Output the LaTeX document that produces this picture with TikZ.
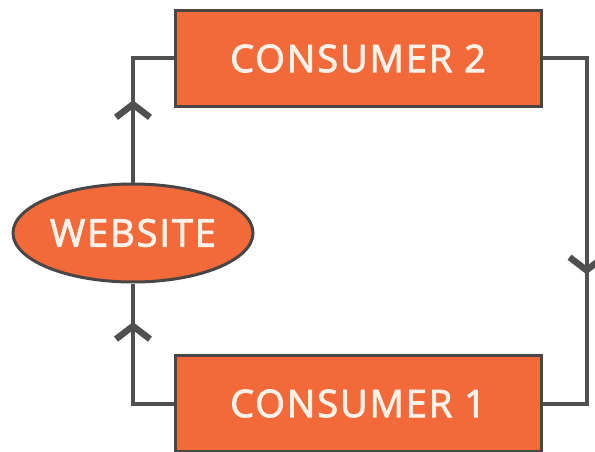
\documentclass[tikz,border=0pt]{standalone}
\usepackage{fontspec}
\setmainfont{Open Sans}
\newfontfamily\boxfont{Open Sans}[FakeBold=2.4,LetterSpace=5]
\usetikzlibrary{positioning,arrows.meta,shapes.geometric,decorations.markings}

\definecolor{boxorange}{HTML}{F26A3A}
\definecolor{edgegray}{HTML}{4B4646}
\definecolor{linegray}{HTML}{505050}
\definecolor{labelwhite}{HTML}{FDF1E8}

\begin{document}
\begin{tikzpicture}[x=1pt,y=-1pt,
         consumer/.style = {rectangle,draw=edgegray,line width=3pt,fill=boxorange,
         minimum width=366pt,minimum height=96pt,inner sep=0pt,
         text=labelwhite,font=\boxfont\fontsize{38}{40}\selectfont},
         site/.style = {ellipse,draw=edgegray,line width=3pt,fill=boxorange,
         minimum width=240pt,minimum height=98pt,inner sep=0pt,
         text=labelwhite,font=\boxfont\fontsize{38}{40}\selectfont},
         flow/.style = {draw=linegray,line width=4pt,
         postaction={decorate}, decoration={markings, mark=at position #1
      with {\arrow[linegray]{Straight Barb[length=13pt,width=34pt,line width=6.5pt]}}}}
]
   \useasboundingbox (0,0) rectangle (595,452);

   \node[consumer] (c2) at (358,58.5) {CONSUMER 2};
   \node[consumer,below=246pt of c2] (c1) {CONSUMER 1};
   \node[site] (web) at (133,233) {WEBSITE};

   \coordinate[right=44pt of c2.east] (r2);
   \coordinate[right=44pt of c1.east] (r1);

   % website feeds consumer 2, consumer 1 feeds website
   \draw[flow=0.5] (web.north) |- (c2.west);
   \draw[flow=0.76] (c1.west) -| (web.south);
   % consumer 2 hands over to consumer 1
   \draw[flow=0.6] (c2.east) -- (r2) -- (r1) -- (c1.east);
\end{tikzpicture}
\end{document}
